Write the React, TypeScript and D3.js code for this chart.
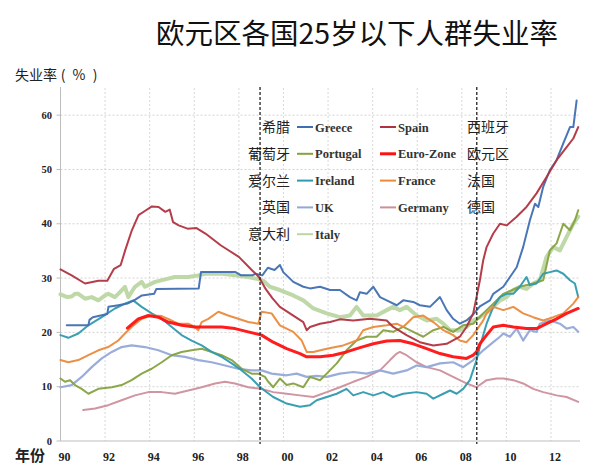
import React from "react";
import * as d3 from "d3";

type Pt = [number, number];

const xTickYears = [1990, 1992, 1994, 1996, 1998, 2000, 2002, 2004, 2006, 2008, 2010, 2012];
const xTickLabels = ["90", "92", "94", "96", "98", "00", "02", "04", "06", "08", "10", "12"];
const yTicks = [0, 10, 20, 30, 40, 50, 60];
const markerYears = [1998.95, 2008.67];

const greece: Pt[] = [[1990.28,21.3],[1991.25,21.3],[1991.3,22.3],[1991.45,22.8],[1992.1,23.4],[1992.15,24.7],[1992.6,25.0],[1993.0,25.3],[1993.3,25.9],[1993.65,26.8],[1994.2,27.1],[1994.3,28.0],[1996.2,28.1],[1996.3,31.1],[1997.85,31.1],[1998.1,30.5],[1998.6,30.5],[1998.75,30.8],[1999.05,30.5],[1999.3,31.9],[1999.6,31.5],[1999.84,32.4],[1999.99,31.1],[2000.44,29.3],[2000.89,28.4],[2001.19,28.1],[2001.64,28.4],[2002.09,27.8],[2002.53,27.8],[2002.98,26.5],[2003.28,25.9],[2003.43,27.4],[2003.73,27.1],[2004.03,28.4],[2004.33,26.5],[2004.63,25.9],[2005.08,25.0],[2005.37,25.9],[2005.82,25.6],[2006.12,25.0],[2006.57,24.7],[2007.02,26.5],[2007.32,24.1],[2007.61,22.5],[2007.91,21.6],[2008.21,22.2],[2008.51,23.3],[2008.81,24.8],[2009.26,25.9],[2009.41,27.1],[2009.86,28.4],[2010.16,30.2],[2010.46,32.0],[2010.75,35.7],[2011.05,40.6],[2011.28,43.7],[2011.43,43.1],[2011.65,46.8],[2011.95,49.9],[2012.25,51.7],[2012.55,54.8],[2012.85,57.8],[2013.0,57.8],[2013.15,62.7]];

const spain: Pt[] = [[1990.0,31.6],[1990.5,30.5],[1991.1,29.0],[1991.7,29.5],[1992.1,29.5],[1992.4,31.7],[1992.7,32.4],[1992.9,35.1],[1993.2,38.8],[1993.5,41.6],[1993.8,42.4],[1994.1,43.2],[1994.4,43.1],[1994.7,42.2],[1994.9,42.6],[1995.05,40.3],[1995.3,39.7],[1995.7,39.1],[1996.1,39.2],[1996.5,38.2],[1997.2,36.0],[1998.0,33.9],[1998.6,31.4],[1998.9,30.2],[1999.2,28.0],[1999.5,26.3],[1999.84,24.7],[2000.44,23.1],[2000.89,21.9],[2001.04,20.4],[2001.19,21.0],[2001.64,21.6],[2002.09,21.9],[2002.53,22.4],[2003.13,22.2],[2003.88,22.5],[2004.63,22.2],[2004.92,21.0],[2005.52,19.5],[2006.12,18.2],[2006.72,17.6],[2007.32,17.9],[2007.91,19.2],[2008.21,21.0],[2008.51,23.5],[2008.66,26.5],[2008.81,29.6],[2008.96,33.3],[2009.11,35.7],[2009.41,38.2],[2009.71,40.0],[2010.01,39.7],[2010.46,41.3],[2010.9,43.1],[2011.35,45.6],[2011.8,48.6],[2012.25,51.7],[2012.7,54.1],[2013.0,55.7],[2013.22,57.8]];

const italy: Pt[] = [[1990.0,27.0],[1990.3,26.5],[1990.5,26.6],[1990.65,27.1],[1990.8,27.1],[1991.1,26.2],[1991.4,26.5],[1991.7,25.9],[1992.0,26.8],[1992.14,27.1],[1992.44,26.5],[1992.59,27.1],[1992.89,28.4],[1993.04,26.5],[1993.34,28.4],[1993.64,29.3],[1993.79,28.4],[1994.24,29.3],[1994.83,29.9],[1995.13,30.2],[1995.73,30.2],[1996.18,30.5],[1996.48,30.8],[1997.23,30.8],[1997.83,30.5],[1998.42,30.2],[1998.87,29.8],[1999.1,29.5],[1999.39,28.4],[1999.84,27.8],[2000.44,26.8],[2000.89,25.9],[2001.34,24.4],[2001.94,23.5],[2002.53,22.8],[2002.98,23.1],[2003.28,24.7],[2003.58,23.1],[2004.18,23.1],[2004.63,24.1],[2004.92,24.7],[2005.22,24.1],[2005.52,24.7],[2005.97,23.1],[2006.42,22.2],[2006.87,22.5],[2007.17,21.6],[2007.47,20.4],[2007.91,20.4],[2008.21,21.0],[2008.51,22.2],[2008.81,22.8],[2009.26,24.1],[2009.71,25.9],[2010.01,26.5],[2010.31,27.8],[2010.6,28.4],[2010.9,28.0],[2011.2,29.0],[2011.5,29.6],[2011.8,33.9],[2012.1,35.7],[2012.4,35.1],[2012.7,37.6],[2013.0,40.0],[2013.22,41.3]];

const portugal: Pt[] = [[1990.0,11.5],[1990.2,10.9],[1990.43,11.2],[1990.65,10.3],[1990.95,9.6],[1991.25,8.7],[1991.7,9.6],[1992.3,9.9],[1992.74,10.3],[1993.19,11.2],[1993.64,12.4],[1994.09,13.3],[1994.54,14.5],[1994.99,15.8],[1995.43,16.4],[1995.88,16.7],[1996.33,17.0],[1996.78,16.4],[1997.23,15.8],[1997.68,14.9],[1998.13,13.3],[1998.57,12.4],[1998.87,12.4],[1999.17,11.8],[1999.3,11.0],[1999.54,9.9],[1999.84,11.5],[2000.14,10.3],[2000.44,10.6],[2000.89,9.9],[2001.19,11.8],[2001.64,11.2],[2001.94,12.4],[2002.39,14.3],[2002.83,16.7],[2003.28,18.5],[2003.73,19.2],[2004.18,19.2],[2004.48,20.4],[2004.92,20.1],[2005.37,21.0],[2005.82,20.1],[2006.27,19.2],[2006.72,20.4],[2007.17,21.0],[2007.61,20.1],[2008.06,21.3],[2008.51,21.6],[2008.96,23.5],[2009.41,25.3],[2009.86,27.1],[2010.6,28.4],[2011.2,29.0],[2011.65,29.6],[2011.95,35.1],[2012.25,36.4],[2012.55,40.0],[2012.85,38.8],[2013.07,40.6],[2013.22,42.5]];

const ireland: Pt[] = [[1990.0,19.5],[1990.35,19.0],[1990.8,19.8],[1991.25,21.3],[1991.85,22.8],[1992.44,24.4],[1992.89,25.3],[1993.26,25.9],[1993.64,24.7],[1994.09,23.5],[1994.54,22.5],[1994.99,21.0],[1995.43,19.5],[1995.88,18.5],[1996.33,17.6],[1996.78,16.4],[1997.23,15.5],[1997.68,14.3],[1998.13,13.0],[1998.57,11.5],[1998.98,9.8],[1999.54,8.1],[2000.14,6.9],[2000.74,6.3],[2001.19,6.6],[2001.49,7.5],[2001.94,8.1],[2002.39,8.7],[2002.83,9.6],[2003.13,8.4],[2003.58,9.0],[2004.03,8.4],[2004.48,9.0],[2004.92,8.1],[2005.37,8.7],[2005.97,9.0],[2006.42,8.7],[2006.72,7.8],[2007.17,8.7],[2007.47,9.3],[2007.77,8.7],[2008.06,9.6],[2008.36,11.2],[2008.66,14.9],[2008.85,18.0],[2009.11,21.6],[2009.41,24.7],[2009.71,26.5],[2010.01,27.1],[2010.31,27.1],[2010.6,28.4],[2010.9,30.2],[2011.05,28.7],[2011.35,29.0],[2011.65,30.8],[2011.95,31.1],[2012.25,31.4],[2012.55,30.8],[2012.85,29.6],[2013.07,29.0],[2013.22,26.5]];

const euroZone: Pt[] = [[1993.0,20.8],[1993.49,22.5],[1993.94,23.1],[1994.39,22.8],[1994.83,21.9],[1995.43,21.3],[1996.03,21.0],[1996.63,21.0],[1997.23,21.0],[1997.83,20.7],[1998.42,20.1],[1999.02,19.5],[1999.54,18.2],[2000.14,17.0],[2000.74,16.1],[2001.04,15.5],[2001.64,15.5],[2002.23,15.8],[2002.83,16.4],[2003.43,17.2],[2004.03,17.9],[2004.63,18.4],[2005.22,18.5],[2005.82,17.9],[2006.42,17.0],[2007.02,16.1],[2007.61,15.5],[2008.21,15.2],[2008.51,15.8],[2008.66,16.4],[2008.81,17.9],[2009.11,19.5],[2009.41,21.0],[2009.86,21.3],[2010.31,21.0],[2010.9,20.7],[2011.35,20.7],[2011.8,21.6],[2012.25,22.5],[2012.7,23.5],[2013.22,24.4]];

const france: Pt[] = [[1990.0,14.9],[1990.35,14.5],[1990.8,14.9],[1991.25,15.8],[1991.7,16.7],[1992.14,17.3],[1992.59,18.5],[1992.89,19.8],[1993.19,21.0],[1993.64,22.5],[1994.09,23.1],[1994.54,23.0],[1994.83,22.5],[1995.28,21.6],[1995.73,21.6],[1996.03,21.0],[1996.18,20.4],[1996.33,21.9],[1996.63,22.5],[1997.08,23.8],[1997.52,23.1],[1997.97,22.5],[1998.42,21.9],[1998.87,21.6],[1999.02,23.8],[1999.47,23.5],[1999.84,21.3],[2000.44,20.1],[2000.82,18.5],[2001.04,16.4],[2001.34,16.4],[2001.94,17.0],[2002.68,17.6],[2003.28,18.5],[2003.58,20.4],[2004.03,21.0],[2004.63,21.3],[2005.08,21.6],[2005.37,21.0],[2005.82,22.8],[2006.27,23.1],[2006.72,21.9],[2007.17,20.4],[2007.61,19.5],[2007.91,18.5],[2008.21,18.2],[2008.51,19.5],[2008.96,22.2],[2009.11,23.5],[2009.41,24.7],[2009.86,24.1],[2010.31,24.7],[2010.75,23.5],[2011.2,22.8],[2011.65,22.2],[2012.1,22.8],[2012.55,23.5],[2013.0,25.3],[2013.22,26.5]];

const uk: Pt[] = [[1990.0,9.9],[1990.5,10.3],[1990.95,11.8],[1991.4,13.6],[1991.85,15.2],[1992.3,16.4],[1992.74,17.3],[1993.19,17.6],[1993.79,17.3],[1994.39,16.7],[1994.99,15.8],[1995.58,15.5],[1996.18,14.9],[1996.78,14.5],[1997.38,13.9],[1997.97,13.3],[1998.57,13.0],[1999.02,13.0],[1999.47,12.4],[2000.14,12.1],[2000.59,12.4],[2001.04,11.8],[2001.49,12.0],[2001.94,11.8],[2002.53,12.4],[2003.13,12.7],[2003.73,12.4],[2004.33,13.0],[2004.92,12.4],[2005.52,13.0],[2005.97,13.9],[2006.42,13.6],[2007.02,14.3],[2007.61,14.5],[2008.06,13.6],[2008.51,14.9],[2008.96,16.7],[2009.41,18.2],[2009.71,19.2],[2009.86,19.8],[2010.16,19.2],[2010.46,20.7],[2010.75,18.5],[2011.05,20.4],[2011.35,20.1],[2011.5,21.6],[2011.95,22.2],[2012.4,21.6],[2012.7,20.7],[2013.0,21.0],[2013.22,20.1]];

const germany: Pt[] = [[1991.02,5.7],[1991.55,6.0],[1992.14,6.6],[1992.74,7.5],[1993.34,8.4],[1993.94,9.0],[1994.54,9.0],[1995.13,8.7],[1995.73,9.3],[1996.33,9.9],[1996.93,10.6],[1997.38,10.9],[1997.83,10.6],[1998.42,9.9],[1999.02,9.6],[1999.54,9.0],[2000.14,8.7],[2000.74,8.4],[2001.34,8.1],[2001.94,9.0],[2002.53,9.9],[2003.13,10.9],[2003.73,11.8],[2004.33,13.0],[2004.78,14.9],[2005.08,16.1],[2005.22,16.4],[2005.52,15.8],[2005.97,14.5],[2006.42,13.6],[2007.02,13.0],[2007.61,11.8],[2008.21,10.6],[2008.66,9.9],[2009.11,11.2],[2009.56,11.5],[2009.86,11.5],[2010.31,11.2],[2010.75,10.6],[2011.2,9.6],[2011.65,9.0],[2012.25,8.4],[2012.7,8.1],[2013.22,7.2]];

const seriesNames = ["Italy", "Germany", "UK", "Portugal", "Ireland", "France", "Greece", "Spain", "Euro-Zone"];
const seriesData: Pt[][] = [italy, germany, uk, portugal, ireland, france, greece, spain, euroZone];
const seriesColors = ["#bcd6a2", "#cc8f9b", "#93a8d8", "#86a23f", "#2f9aae", "#ea8a3b", "#3f6fb3", "#b1333f", "#ff1010"];
const seriesWidths = [4, 2, 2.2, 2, 2, 2, 2, 2, 3];

// legend: left column (Chinese label, English name) and right column
const legendLeftZh = ["希腊", "葡萄牙", "爱尔兰", "英国", "意大利"];
const legendLeftEn = ["Greece", "Portugal", "Ireland", "UK", "Italy"];
const legendRightEn = ["Spain", "Euro-Zone", "France", "Germany"];
const legendRightZh = ["西班牙", "欧元区", "法国", "德国"];

const W = 600;
const H = 476;
const serif = "'Liberation Serif', 'DejaVu Serif', serif";
const cjk = "'Noto Sans CJK SC', 'Noto Sans', sans-serif";

export default function App() {
  const x = d3.scaleLinear().domain([1990, 2013.3]).range([60.5, 580]);
  const y = d3.scaleLinear().domain([0, 65]).range([441, 88]);
  const line = d3
    .line<Pt>()
    .x((d) => x(d[0]))
    .y((d) => y(d[1]))
    .curve(d3.curveLinear);

  const colorOf = (name: string) => seriesColors[seriesNames.indexOf(name)];
  const widthOf = (name: string) => Math.min(seriesWidths[seriesNames.indexOf(name)], name === "Euro-Zone" ? 3.5 : 2);

  const rowY = (i: number) => 127 + i * 26.8;

  return (
    <svg
      width={W}
      height={H}
      viewBox={`0 0 ${W} ${H}`}
      style={{ position: "absolute", left: 0, top: 0, background: "#fff" }}
    >
      <rect x={0} y={0} width={W} height={H} fill="#fff" />
      <text x={357} y={44} textAnchor="middle" fontFamily={cjk} fontSize={28.5} fill="#111">
        欧元区各国25岁以下人群失业率
      </text>
      <g fontFamily={cjk} fontSize={14} fill="#222">
        <text x={15} y={80}>失业率</text>
        <text x={63} y={80} textAnchor="middle">(</text>
        <text x={79} y={80} textAnchor="middle">%</text>
        <text x={95} y={80} textAnchor="middle">)</text>
      </g>

      {/* grid */}
      {yTicks.filter((t) => t > 0).map((t) => (
        <line key={"hg" + t} x1={x(1990)} x2={580} y1={y(t)} y2={y(t)} stroke="#c8c8c8" strokeWidth={0.8} strokeDasharray="2,2" />
      ))}
      {xTickYears.filter((t) => t > 1990).map((t) => (
        <line key={"vg" + t} x1={x(t)} x2={x(t)} y1={88} y2={y(0)} stroke="#cfcfcf" strokeWidth={0.8} strokeDasharray="2,2" />
      ))}

      {/* axes */}
      <line x1={x(1990)} x2={x(1990)} y1={87} y2={y(0)} stroke="#bdbdbd" strokeWidth={1} />
      <line x1={x(1990)} x2={580} y1={y(0)} y2={y(0)} stroke="#bdbdbd" strokeWidth={1} />
      {yTicks.map((t) => (
        <g key={"yt" + t}>
          <line x1={x(1990) - 4} x2={x(1990)} y1={y(t)} y2={y(t)} stroke="#bdbdbd" strokeWidth={1} />
          <text x={52} y={y(t) + 3.5} textAnchor="end" fontFamily={serif} fontWeight="bold" fontSize={10.5} fill="#222">
            {t}
          </text>
        </g>
      ))}
      {xTickYears.map((t, i) => (
        <text key={"xt" + t} x={x(t) + 4} y={461} textAnchor="middle" fontFamily={serif} fontWeight="bold" fontSize={12} fill="#222">
          {xTickLabels[i]}
        </text>
      ))}
      <text x={15} y={461} fontFamily={cjk} fontSize={15} fontWeight="bold" fill="#222">
        年份
      </text>

      {/* series */}
      {seriesNames.map((name, i) => (
        <path
          key={name}
          d={line(seriesData[i]) || ""}
          fill="none"
          stroke={seriesColors[i]}
          strokeWidth={seriesWidths[i]}
          strokeLinejoin="round"
          strokeLinecap="round"
          opacity={0.95}
        />
      ))}

      {/* event markers */}
      {markerYears.map((m) => (
        <line key={"m" + m} x1={x(m)} x2={x(m)} y1={87} y2={444} stroke="#333" strokeWidth={1.4} strokeDasharray="3,2" />
      ))}

      {/* legend */}
      {legendLeftZh.map((zh, i) => (
        <g key={"ll" + i}>
          <text x={290} y={rowY(i) + 5} textAnchor="end" fontFamily={cjk} fontSize={14} fill="#222">
            {zh}
          </text>
          <line x1={297} x2={313} y1={rowY(i)} y2={rowY(i)} stroke={colorOf(legendLeftEn[i])} strokeWidth={widthOf(legendLeftEn[i])} />
          <text x={315} y={rowY(i) + 4.5} fontFamily={serif} fontWeight="bold" fontSize={12.5} fill="#333">
            {legendLeftEn[i]}
          </text>
        </g>
      ))}
      {legendRightEn.map((en, i) => (
        <g key={"lr" + i}>
          <line x1={380} x2={396} y1={rowY(i)} y2={rowY(i)} stroke={colorOf(en)} strokeWidth={widthOf(en)} />
          <text x={398} y={rowY(i) + 4.5} fontFamily={serif} fontWeight="bold" fontSize={12.5} fill="#333">
            {en}
          </text>
          <text x={467} y={rowY(i) + 5} fontFamily={cjk} fontSize={14} fill="#222">
            {legendRightZh[i]}
          </text>
        </g>
      ))}
    </svg>
  );
}
